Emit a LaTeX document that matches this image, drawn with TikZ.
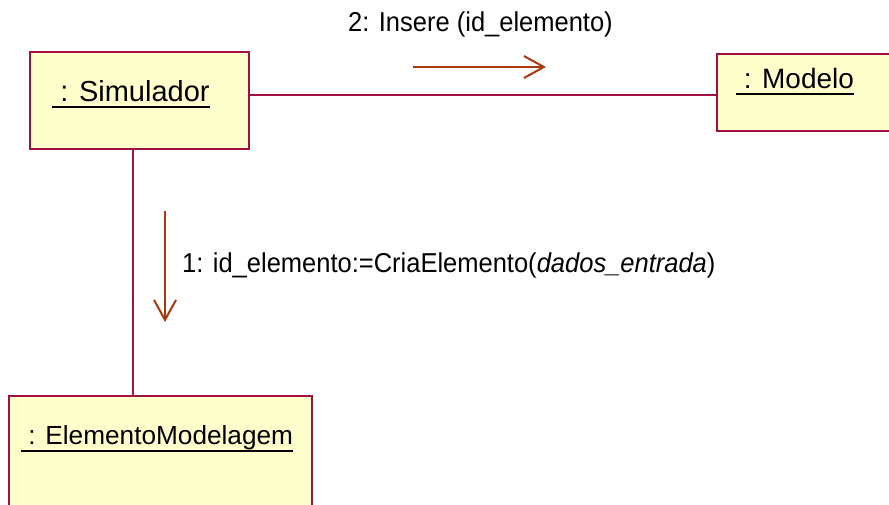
\documentclass[tikz,border=0pt]{standalone}
\usepackage{fontspec}
\setmainfont{Liberation Sans}
\usetikzlibrary{arrows.meta}
\definecolor{objborder}{RGB}{160,16,64}
\definecolor{objfill}{RGB}{255,255,204}
\definecolor{msgcol}{RGB}{172,58,16}
\tikzset{
  objbox/.style={draw=objborder, fill=objfill, line width=2pt},
  link/.style={draw=objborder, line width=2pt},
  objname/.style={inner sep=0pt, anchor=base west, font=\fontsize{29}{32}\selectfont},
  msgarrow/.style={draw=msgcol, line width=2pt, -{Straight Barb[length=20pt,width=22pt,line width=2pt]}},
  msglabel/.style={inner sep=0pt, anchor=base west, font=\fontsize{25.5}{28}\selectfont},
  uline/.style={line width=2pt}
}
\newcommand{\tallfit}[1]{\scalebox{1}[1.07]{#1}}
\begin{document}
\begin{tikzpicture}[x=1pt,y=-1pt]
\useasboundingbox (0,0) rectangle (889,504);
\clip (0,0) rectangle (889,504);
\fill[white] (0,0) rectangle (889,504);

% object boxes
\path[objbox] (30,52) rectangle (249,149);
\path[objbox] (717,54) rectangle (900,131);
\path[objbox] (9,396) rectangle (312,515);
\coordinate (simE) at (249,95);
\coordinate (simS) at (133,149);
\coordinate (modW) at (717,95);
\coordinate (eleN) at (133,396);

% links
\draw[link] (simE) -- (modW);
\draw[link] (simS) -- (eleN);

% object names
\node[objname] (nsim) at (52,101) {\ : Simulador};
\draw[uline] ([yshift=-6pt]nsim.base west) -- ([yshift=-6pt]nsim.base east);
\node[objname, font=\fontsize{28}{31}\selectfont] (nmod) at (736,88) {\ : Modelo};
\draw[uline] ([yshift=-6pt]nmod.base west) -- ([yshift=-6pt]nmod.base east);
\node[objname, font=\fontsize{26.2}{30}\selectfont] (nele) at (21,444) {\ : ElementoModelagem};
\draw[uline] ([yshift=-7pt]nele.base west) -- ([yshift=-7pt]nele.base east);

% messages
\coordinate (m2a) at (413,67);
\coordinate (m2b) at (546,67);
\draw[msgarrow] (m2a) -- (m2b);
\node[msglabel] (l2) at (348,31) {\tallfit{2: Insere (id\_elemento)}};

\coordinate (m1a) at (165,211);
\coordinate (m1b) at (165,322);
\draw[msgarrow] (m1a) -- (m1b);
\node[msglabel] (l1) at (182,272) {\tallfit{1: id\_elemento:=CriaElemento(\textit{dados\_entrada})}};
\end{tikzpicture}
\end{document}
